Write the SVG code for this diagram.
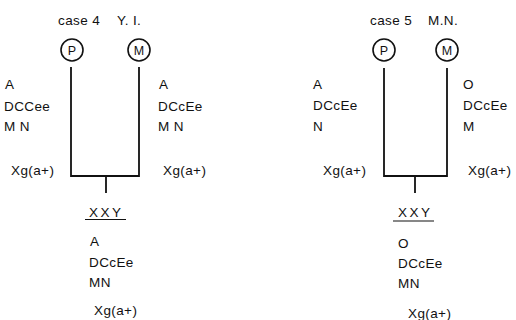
<svg xmlns="http://www.w3.org/2000/svg" width="516" height="320" viewBox="0 0 516 320">
<style>
text{font-family:"Liberation Sans",Arial,sans-serif;font-size:13.5px;fill:#111;letter-spacing:0.4px}
.c{fill:#fff;stroke:#111;stroke-width:1.6}
.ci{font-size:12.5px;text-anchor:middle;letter-spacing:0}
.x{letter-spacing:2.5px}
.ln{stroke:#111;stroke-width:1.8;fill:none}
.ul{stroke:#111;stroke-width:1.2}
</style>
<rect width="516" height="320" fill="#fff"/>
<g id="case4">
<g id="title4"><text x="58" y="25">case 4</text><text x="117" y="25">Y. I.</text></g>
<g id="p4"><circle class="c" cx="72" cy="50" r="11"/><text class="ci" x="72" y="54.5">P</text>
<text x="5" y="89">A</text><text x="4" y="111">DCCee</text><text x="4" y="131">M N</text><text x="11" y="175">Xg(a+)</text></g>
<g id="m4"><circle class="c" cx="139" cy="50" r="11"/><text class="ci" x="139" y="54.5">M</text>
<text x="159" y="89">A</text><text x="158" y="111">DCcEe</text><text x="158" y="131">M N</text><text x="163" y="175">Xg(a+)</text></g>
<g id="child4"><text class="x" x="89" y="217">XXY</text><line class="ul" x1="85" y1="219.5" x2="126" y2="219.5"/>
<text x="90" y="246">A</text><text x="89" y="267">DCcEe</text><text x="89" y="287">MN</text><text x="94" y="315">Xg(a+)</text></g>
</g>
<g id="case5">
<g id="title5"><text x="370" y="25">case 5</text><text x="428" y="25">M.N.</text></g>
<g id="p5"><circle class="c" cx="384" cy="50" r="11"/><text class="ci" x="384" y="54.5">P</text>
<text x="313" y="89">A</text><text x="313" y="110">DCcEe</text><text x="313" y="131">N</text><text x="323" y="175">Xg(a+)</text></g>
<g id="m5"><circle class="c" cx="447" cy="50" r="11"/><text class="ci" x="447" y="54.5">M</text>
<text x="463" y="89">O</text><text x="463" y="110">DCcEe</text><text x="463" y="131">M</text><text x="468" y="175">Xg(a+)</text></g>
<g id="child5"><text class="x" x="398" y="217">XXY</text><line class="ul" x1="393" y1="221" x2="434" y2="221"/>
<text x="398" y="248">O</text><text x="398" y="268">DCcEe</text><text x="398" y="288">MN</text><text x="408" y="318">Xg(a+)</text></g>
</g>
<g id="connectors">
<path class="ln" d="M71 67V176H139V67M106 176V193"/>
<path class="ln" d="M384 68V176H447V68M415 176V193"/>
</g>
</svg>
